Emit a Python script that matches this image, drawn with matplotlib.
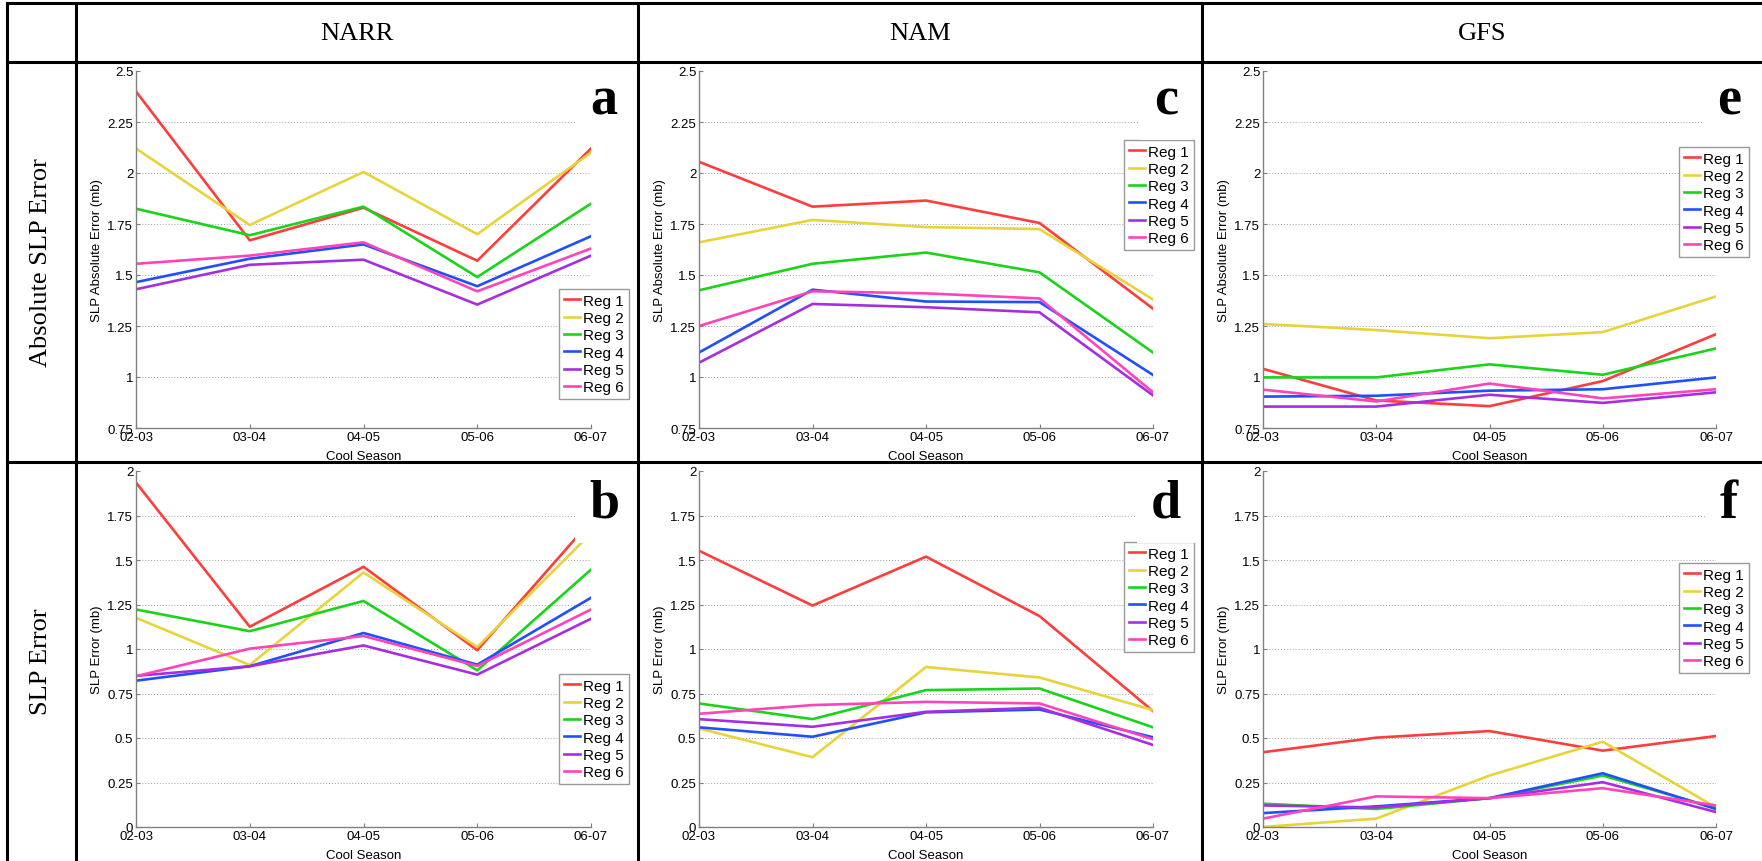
import matplotlib.pyplot as plt
from matplotlib.lines import Line2D
from matplotlib.ticker import FuncFormatter

plt.rc('font', family='Liberation Sans', size=9)

W, H = 1762, 862

seasons = ['02-03', '03-04', '04-05', '05-06', '06-07']
regions = ['Reg 1', 'Reg 2', 'Reg 3', 'Reg 4', 'Reg 5', 'Reg 6']
models = ['NARR', 'NAM', 'GFS']
row_titles = ['Absolute SLP Error', 'SLP Error']
ylabels = ['SLP Absolute Error (mb)', 'SLP Error (mb)']
letters = [['a', 'c', 'e'], ['b', 'd', 'f']]
colors = ['#ff3d3d', '#e8d43a', '#1ad41a', '#1f4fff', '#a52fe0', '#ff44bb']

# absolute SLP error (mb), one row per region
narr_abs = [[2.40, 1.67, 1.83, 1.57, 2.12],
            [2.12, 1.745, 2.005, 1.70, 2.10],
            [1.825, 1.695, 1.835, 1.49, 1.85],
            [1.465, 1.58, 1.65, 1.445, 1.69],
            [1.43, 1.55, 1.575, 1.355, 1.595],
            [1.555, 1.595, 1.66, 1.42, 1.63]]
nam_abs = [[2.055, 1.835, 1.865, 1.755, 1.335],
           [1.66, 1.77, 1.735, 1.725, 1.38],
           [1.425, 1.555, 1.61, 1.513, 1.12],
           [1.12, 1.428, 1.37, 1.367, 1.01],
           [1.07, 1.358, 1.342, 1.317, 0.91],
           [1.25, 1.42, 1.41, 1.385, 0.925]]
gfs_abs = [[1.04, 0.885, 0.857, 0.98, 1.21],
           [1.26, 1.23, 1.19, 1.22, 1.395],
           [0.998, 0.998, 1.062, 1.011, 1.14],
           [0.904, 0.908, 0.933, 0.94, 0.998],
           [0.855, 0.855, 0.913, 0.873, 0.925],
           [0.938, 0.88, 0.968, 0.895, 0.94]]

# SLP error (mb)
narr_err = [[1.935, 1.125, 1.462, 0.993, 1.72],
            [1.175, 0.91, 1.43, 1.011, 1.65],
            [1.222, 1.10, 1.27, 0.88, 1.446],
            [0.822, 0.903, 1.09, 0.912, 1.288],
            [0.849, 0.903, 1.02, 0.856, 1.17],
            [0.847, 1.002, 1.073, 0.905, 1.222]]
nam_err = [[1.552, 1.244, 1.519, 1.185, 0.651],
           [0.554, 0.392, 0.899, 0.84, 0.657],
           [0.694, 0.606, 0.769, 0.778, 0.56],
           [0.56, 0.507, 0.644, 0.66, 0.504],
           [0.606, 0.563, 0.647, 0.67, 0.461],
           [0.636, 0.685, 0.703, 0.694, 0.493]]
gfs_err = [[0.42, 0.502, 0.539, 0.429, 0.511],
           [0.0, 0.047, 0.289, 0.479, 0.11],
           [0.131, 0.101, 0.162, 0.289, 0.106],
           [0.078, 0.116, 0.162, 0.302, 0.101],
           [0.121, 0.11, 0.162, 0.252, 0.084],
           [0.047, 0.172, 0.162, 0.218, 0.121]]

panel_data = [[narr_abs, nam_abs, gfs_abs], [narr_err, nam_err, gfs_err]]
ylims = [(0.75, 2.5), (0, 2)]
yticks = [[0.75, 1, 1.25, 1.5, 1.75, 2, 2.25, 2.5],
          [0, 0.25, 0.5, 0.75, 1, 1.25, 1.5, 1.75, 2]]

# layout in pixels
cols_px = [(136, 591), (699, 1153), (1263, 1716)]
rows_px = [(72, 429), (472, 828)]
legend_px = [[(559, 290), (1124, 141), (1679, 148)],
             [(559, 675), (1124, 543), (1679, 564)]]
letter_base = [115, 518]


def fx(px):
    return px / W


def fy(py):
    return 1 - py / H


fig = plt.figure(figsize=(W / 100, H / 100), dpi=100)

for r in range(2):
    top, bot = rows_px[r]
    for c in range(3):
        left, right = cols_px[c]
        ax = fig.add_axes([fx(left), fy(bot), (right - left) / W, (bot - top) / H])
        vals = panel_data[r][c]
        for i in range(6):
            ax.plot(range(5), vals[i], color=colors[i], lw=1.9, label=regions[i])
        ax.set_xlim(0, 4)
        ax.set_ylim(*ylims[r])
        ax.set_xticks(range(5))
        ax.set_xticklabels(seasons)
        ax.set_yticks(yticks[r])
        ax.yaxis.set_major_formatter(FuncFormatter(lambda v, p: '%g' % v))
        for s in ['top', 'right']:
            ax.spines[s].set_visible(False)
        for s in ['left', 'bottom']:
            ax.spines[s].set_color('#808080')
            ax.spines[s].set_linewidth(1)
        ax.tick_params(direction='in', length=3, color='#808080', labelsize=9.5, pad=2)
        ax.yaxis.grid(True, linestyle=(0, (1, 2)), color='#a0a0a0', linewidth=0.7)
        ax.yaxis.get_major_ticks()[-1].gridline.set_visible(False)
        ax.yaxis.get_major_ticks()[0].gridline.set_visible(False)
        ax.set_axisbelow(True)
        ax.set_xlabel('Cool Season', fontsize=9.5)
        ax.set_ylabel(ylabels[r], fontsize=9.5)
        ax.yaxis.set_label_coords(-33 / (right - left), 0.5)
        ax.xaxis.set_label_coords(0.5, -22 / (bot - top))

        lx, ly = legend_px[r][c]
        leg = ax.legend(loc='upper left', bbox_to_anchor=(fx(lx), fy(ly)),
                        bbox_transform=fig.transFigure, borderaxespad=0,
                        fontsize=11, handlelength=1.1, handletextpad=0.2,
                        borderpad=0.3, labelspacing=0.22, fancybox=False,
                        framealpha=1, edgecolor='#999999')
        leg.get_frame().set_linewidth(1)
        leg.set_zorder(5)

        # panel letter, its white box hides what lies under it
        fig.text(fx(right + 13), fy(letter_base[r]), letters[r][c],
                 family='Liberation Serif', weight='bold', size=39,
                 ha='center', va='baseline',
                 bbox=dict(boxstyle='square,pad=0.25', fc='white', ec='none'),
                 zorder=1)

# table frame
lw_tab = 2.2
for y in [4, 63, 463]:
    fig.add_artist(Line2D([fx(7), fx(1762)], [fy(y), fy(y)], color='black', lw=lw_tab, zorder=10))
for x in [7, 76, 638, 1202]:
    fig.add_artist(Line2D([fx(x), fx(x)], [fy(4), fy(862)], color='black', lw=lw_tab, zorder=10))

col_centers = [357, 920, 1482]
for m, xc in zip(models, col_centers):
    fig.text(fx(xc), fy(34), m, family='Liberation Serif', size=19, ha='center', va='center')

for t, yc in zip(row_titles, [263, 662]):
    fig.text(fx(41), fy(yc), t, family='Liberation Serif', size=19, rotation=90,
             ha='center', va='center')

fig.savefig('out.png', dpi=100)
